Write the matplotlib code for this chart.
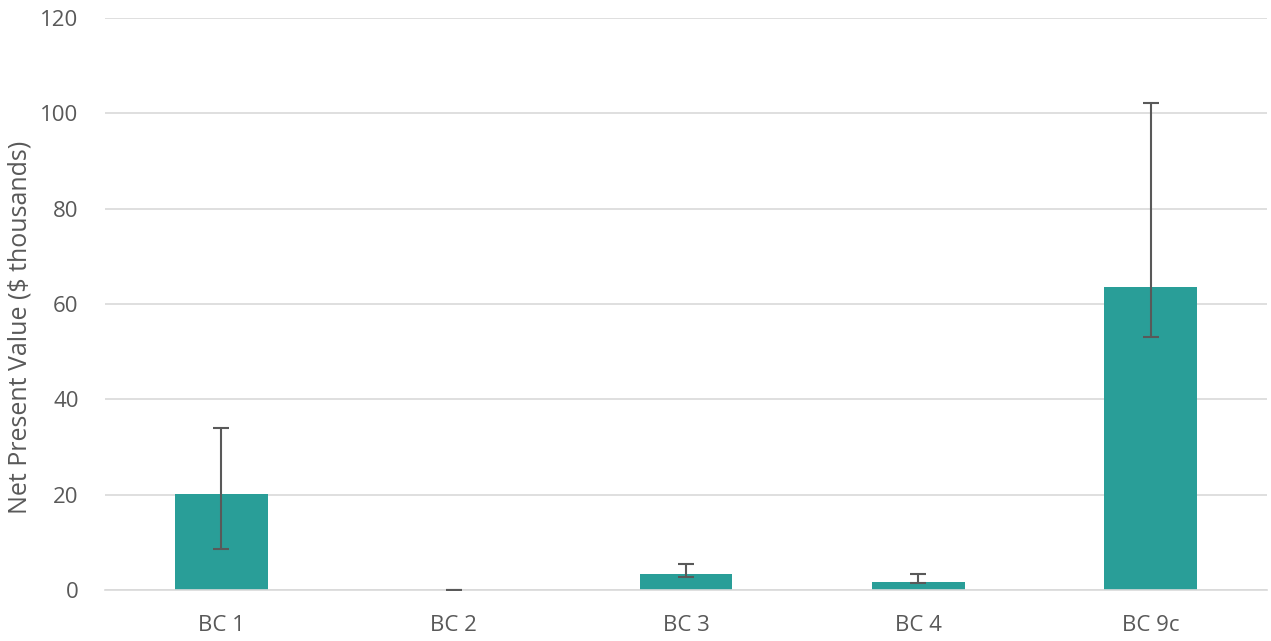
import matplotlib
matplotlib.use("Agg")
import matplotlib.pyplot as plt
import numpy as np

categories = ["BC 1", "BC 2", "BC 3", "BC 4", "BC 9c"]
values = [20.1, 0.0, 3.35, 1.7, 63.5]
err_low = [8.6, 0.0, 2.8, 1.5, 53.1]
err_high = [34.0, 0.0, 5.4, 3.3, 102.1]
yticks = [0, 20, 40, 60, 80, 100, 120]

plt.rcParams['font.family'] = ['Open Sans', 'DejaVu Sans']

W, H = 1271, 641
fig = plt.figure(figsize=(W / 100, H / 100), dpi=100)
ax = fig.add_axes([105 / W, 1 - 590 / H, (1267 - 105) / W, (590 - 18) / H])

x = np.arange(len(categories))
vals = np.array(values)
lo = vals - np.array(err_low)
hi = np.array(err_high) - vals
ax.bar(x, vals, width=0.4, color="#299E98", zorder=2)
ax.errorbar(x, vals, yerr=[lo, hi], fmt="none", ecolor="#595959",
            elinewidth=1.5, capsize=6, capthick=1.5, zorder=3)

ax.set_xlim(-0.5, len(categories) - 0.5)
ax.set_ylim(0, 120)
ax.set_yticks(yticks)
ax.set_xticks(x)
ax.set_xticklabels(categories)
ax.yaxis.grid(True, color="#D9D9D9", linewidth=1.2, zorder=0)
ax.set_axisbelow(True)
for s in ["top", "right", "left"]:
    ax.spines[s].set_visible(False)
ax.spines["bottom"].set_color("#D9D9D9")
ax.spines["bottom"].set_linewidth(1.2)
ax.tick_params(axis="both", length=0, labelsize=16, colors="#595959")
ax.tick_params(axis="y", pad=19)
ax.tick_params(axis="x", pad=18)
ax.set_ylabel("Net Present Value ($ thousands)", fontsize=18, color="#595959")
ax.yaxis.set_label_coords((33 - 105) / (1267 - 105), (590 - 327) / (590 - 18))

fig.savefig("out.png", dpi=100, facecolor="white")
